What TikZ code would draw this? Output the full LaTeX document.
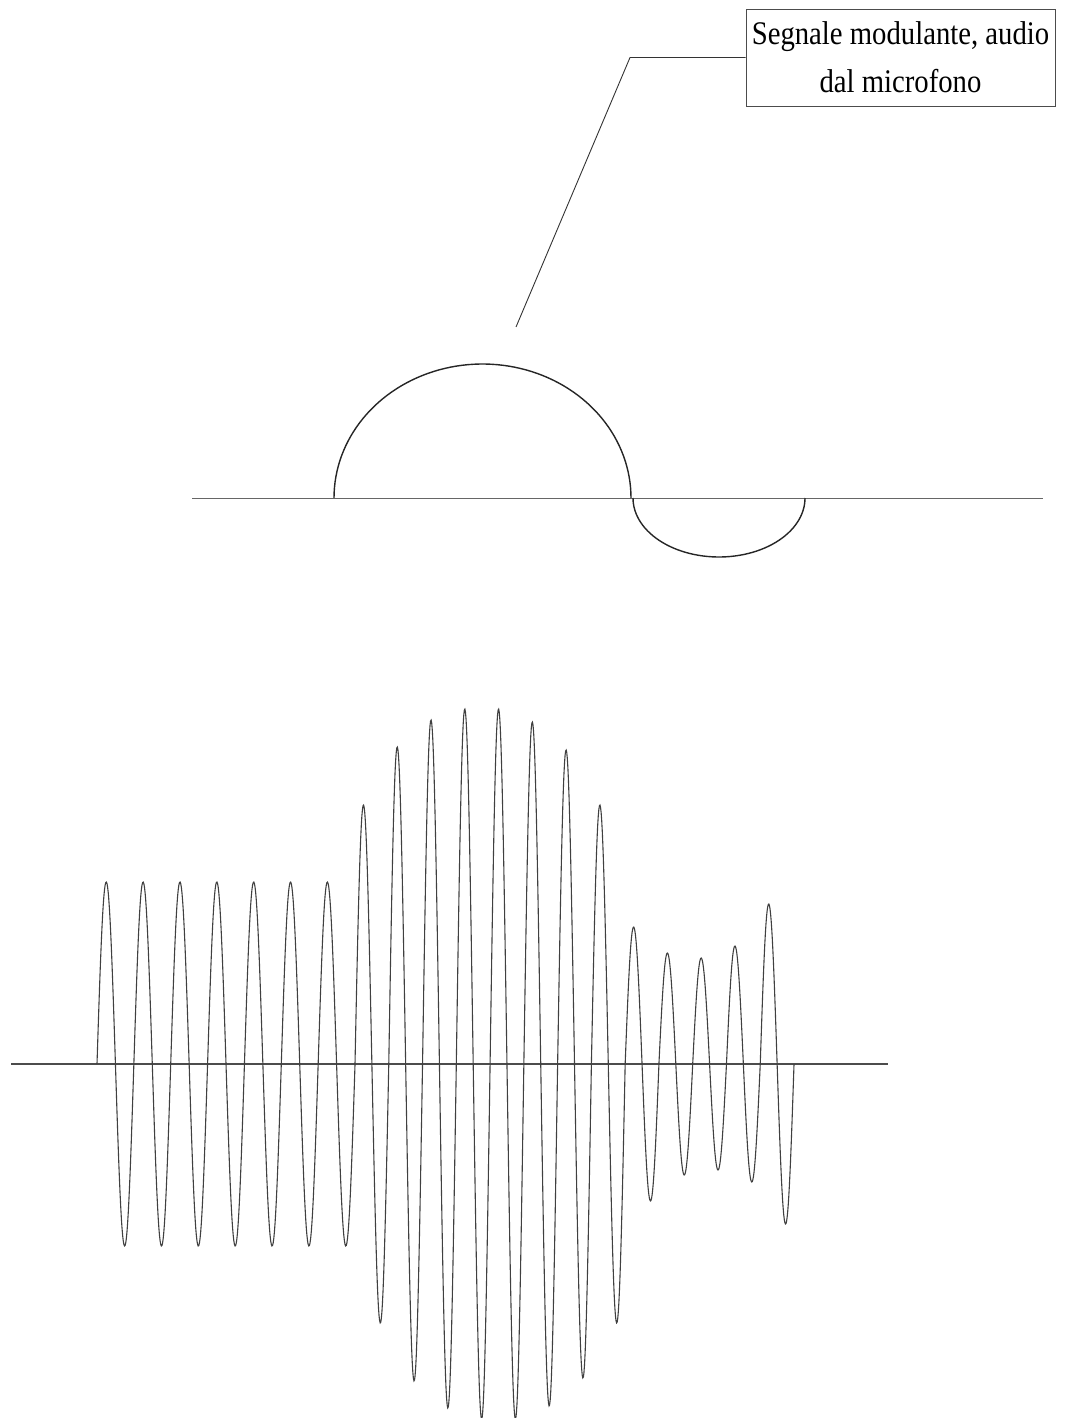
\documentclass[tikz,border=0pt]{standalone}
\usepackage{fontspec}
\setmainfont{Liberation Serif}
\newfontfamily\labelfont[FakeStretch=0.87]{Liberation Serif}
\begin{document}
\begin{tikzpicture}[x=1pt,y=-1pt,
  axisline/.style={line width=1.5pt,black!70},
  baseline/.style={line width=1pt,black!60},
  envelope/.style={line width=1.4pt,black!85},
  wave/.style={line width=1.1pt,black!75},
  leader/.style={line width=0.9pt,black!80},
  labelbox/.style={draw=black!70,line width=0.9pt,minimum width=309pt,minimum height=97pt,
    inner sep=0pt,align=center,font=\labelfont\fontsize{33}{48}\selectfont}]
\useasboundingbox (0,0) rectangle (1066,1418);
% label box and leader
\node[labelbox] (box) at (900.5,57.5) {Segnale modulante, audio\\dal microfono};
\coordinate (tip) at (516,327);
\coordinate (bend) at (630,57.5);
\draw[leader] (tip) -- (bend) -- (box.west);
% modulating signal
\coordinate (b1) at (192,498);
\coordinate (b2) at (1043,498);
\draw[baseline] (b1) -- (b2);
\draw[envelope] plot[domain=180:0,samples=80] ({482.5+148.5*cos(\x)},{498-134*sin(\x)});
\draw[envelope] plot[domain=180:360,samples=60] ({719+86*cos(\x)},{498-59*sin(\x)});
% modulated carrier
\coordinate (a1) at (11,1064);
\coordinate (a2) at (888,1064);
\draw[axisline] (a1) -- (a2);
\foreach \k in {0,...,6}{
  \draw[wave] plot[domain=0:360,samples=60] ({97+36.86*\k+36.86*\x/360},{1064-182*sin(\x)});
}
\foreach \k/\A in {0/259,1/317,2/344,3/355,4/355,5/342,6/314,7/259,8/137,9/111,10/106,11/118,12/160}{
  \draw[wave] plot[domain=0:360,samples=60] ({355+33.77*\k+33.77*\x/360},{1064-\A*sin(\x)});
}
\end{tikzpicture}
\end{document}
